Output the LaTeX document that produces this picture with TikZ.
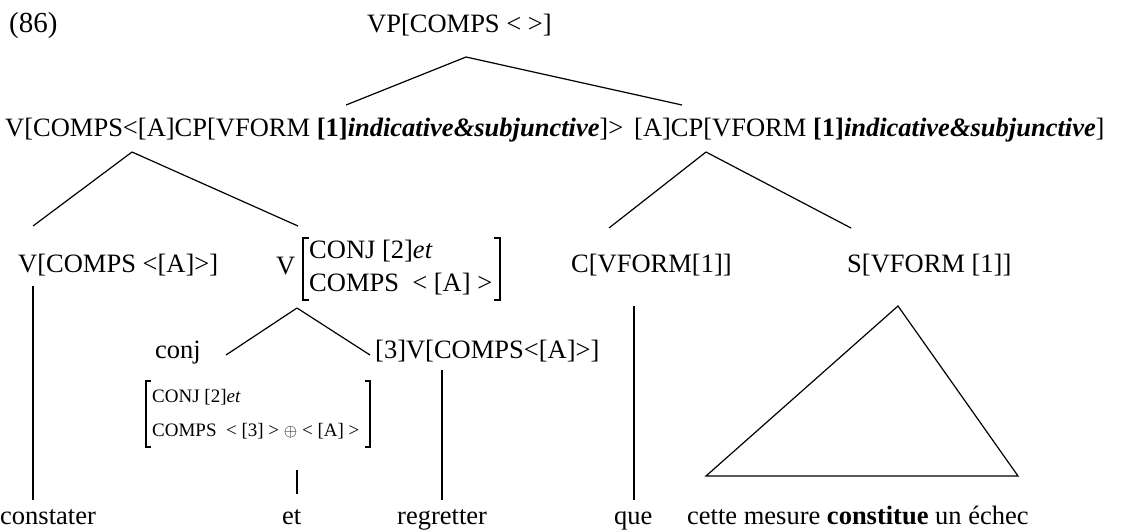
\documentclass[tikz,border=0pt]{standalone}
\usepackage{fontspec}
\setmainfont{Liberation Serif}
\begin{document}
\begin{tikzpicture}[x=1pt,y=-1pt,
  lbl/.style={inner sep=0pt,anchor=base west,font=\fontsize{26.5}{30}\selectfont},
  small/.style={inner sep=0pt,anchor=base west,font=\fontsize{19}{22}\selectfont},
  edge/.style={line width=1.2pt},
  brk/.style={line width=1.2pt}]
\useasboundingbox (0,0) rectangle (1122,531);
% row 1
\node[lbl,font=\fontsize{29}{32}\selectfont] (ex) at (9,32) {(86)};
\node[lbl] (vp) at (367,32) {VP[COMPS < >]};
% row 2
\node[lbl] (v1) at (5,136) {V[COMPS<[A]CP[VFORM \textbf{[1]\textit{indicative\&subjunctive}}]>};
\node[lbl] (cp) at (634,136) {[A]CP[VFORM \textbf{[1]\textit{indicative\&subjunctive}}]};
% row 3
\node[lbl] (v2) at (18,272) {V[COMPS <[A]>]};
\node[lbl] (v3) at (276,274) {V};
\node[lbl] (c1) at (571,272) {C[VFORM[1]]};
\node[lbl] (s1) at (847,272) {S[VFORM [1]]};
\node[lbl] (avm1a) at (309,258) {CONJ [2]\textit{et}};
\node[lbl] (avm1b) at (309,291) {COMPS\ \ < [A] >};
% row 4
\node[lbl] (cj) at (155,358) {conj};
\node[lbl] (v4) at (375,358) {[3]V[COMPS<[A]>]};
\node[small] (avm2a) at (152,402) {CONJ [2]\textit{et}};
\node[small] (avm2b) at (152,436) {COMPS\ \ < [3] > $\oplus$ < [A] >};
% words
\node[lbl] (w1) at (0,524) {constater};
\node[lbl] (w2) at (282,524) {et};
\node[lbl] (w3) at (397,524) {regretter};
\node[lbl] (w4) at (614,524) {que};
\node[lbl] (w5) at (687,524) {cette mesure \textbf{constitue} un échec};
% brackets big AVM
\draw[brk] (309,238) -- (303,238) -- (303,300) -- (309,300);
\draw[brk] (494,238) -- (500,238) -- (500,300) -- (494,300);
% brackets small AVM
\draw[brk] (151,381) -- (146,381) -- (146,447) -- (151,447);
\draw[brk] (365,381) -- (370,381) -- (370,447) -- (365,447);
% tree edges
\coordinate (vpb) at (466,57);
\coordinate (v1b) at (132,152);
\coordinate (cpb) at (706,152);
\coordinate (v3b) at (297,308);
\draw[edge] (vpb) -- (346,105);
\draw[edge] (vpb) -- (682,105);
\draw[edge] (v1b) -- (33,226);
\draw[edge] (v1b) -- (298,226);
\draw[edge] (cpb) -- (609,228);
\draw[edge] (cpb) -- (851,228);
\draw[edge] (v3b) -- (226,355);
\draw[edge] (v3b) -- (370,355);
\draw[edge] (33,286) -- (33,500);
\draw[edge] (297,470) -- (297,494);
\draw[edge] (442,370) -- (442,500);
\draw[edge] (634,306) -- (634,500);
\draw[edge] (898,306) -- (706,476) -- (1018,476) -- cycle;
\end{tikzpicture}
\end{document}
